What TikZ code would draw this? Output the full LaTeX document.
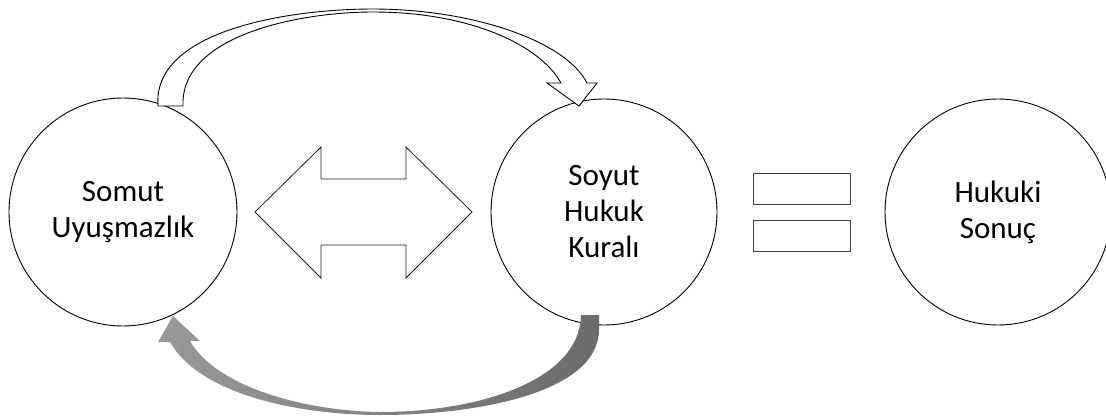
\documentclass[tikz,border=0pt]{standalone}
\usepackage{fontspec}
\setmainfont{Carlito}
\usepackage{tikz}
\usetikzlibrary{calc,positioning}

\begin{document}
\begin{tikzpicture}[x=1pt,y=-1pt]

%Picture size
\def\w{1106}
\def\h{418}
\useasboundingbox (0,0) rectangle (\w,\h);

%Styles
\tikzset{
  daire/.style={circle,draw,line width=0.9pt,minimum size=228pt,inner sep=0pt,align=center,font=\fontsize{31}{36}\selectfont},
  esit/.style={draw=black!75,line width=0.8pt,minimum width=97pt,minimum height=31pt,inner sep=0pt},
  bosok/.style={draw,fill=white,line width=0.9pt,line join=miter},
  griok/.style={left color=black!40,right color=black!58}
}

%Circles
\node[daire] (SU) at (123,212) {Somut\\Uyuşmazlık};
\node[daire,minimum size=226pt] (HK) at (604,212) {Soyut\\Hukuk\\Kuralı};
\node[daire,minimum size=226pt] (HS) at (998,212) {Hukuki\\Sonuç};

%Equal sign
\node[esit] (E1) at (801.5,188.5) {};
\node[esit] (E2) at (801.5,235.5) {};

%Double arrow between SU and HK
\draw[draw=black!90,line width=0.8pt,line join=miter] (255,212) -- (321,147) -- (321,179) -- (406,179) -- (406,147) -- (472,212) -- (406,278) -- (406,245) -- (321,245) -- (321,278) -- cycle;

%Top arrow from SU to HK
\draw[bosok] (158,106) .. controls (152,30) and (290,9) .. (373,9) .. controls (470,9) and (565,40) .. (587,83) -- (597,83) -- (579,106) -- (547,83) -- (561,83) .. controls (540,45) and (470,12) .. (373,12) .. controls (300,12) and (180,35) .. (183,106) -- cycle;

%Bottom arrow from HK back to SU
\shade[griok] (173,316) -- (158,342) -- (170,342) .. controls (200,395) and (300,415) .. (380,415) .. controls (470,415) and (598,395) .. (599,330) -- (599,315) -- (581,315) .. controls (580,380) and (480,412) .. (380,412) .. controls (300,411) and (215,385) .. (190,341) -- (200,341) -- cycle;

\end{tikzpicture}
\end{document}
